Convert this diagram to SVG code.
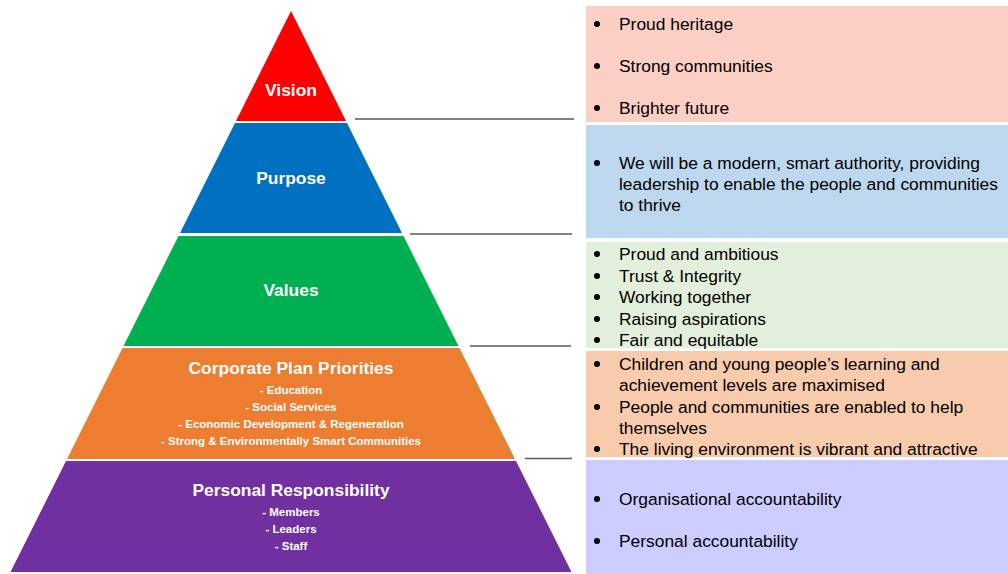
<svg xmlns="http://www.w3.org/2000/svg" width="1008" height="574" viewBox="0 0 1008 574">
<style>
.lbl{font-family:"Liberation Sans",Arial,sans-serif;font-weight:bold;fill:#ffffff;text-anchor:middle}
.t{font-size:17.4px}
.s{font-size:11.5px}
.b{font-family:"Liberation Sans",Arial,sans-serif;font-size:17.4px;fill:#000000}
.conn{stroke:#595959;stroke-width:1.3;fill:none}
</style>
<defs>
<circle id="dot" r="3" fill="#000"/>
</defs>
<rect width="1008" height="574" fill="#ffffff"/>
<g id="vision">
<polygon points="291,11 346,121 236,121" fill="#FF0000"/>
<text class="lbl t" x="291" y="96">Vision</text>
</g>
<g id="purpose">
<polygon points="235,123 347,123 402,233 180,233" fill="#0070C0"/>
<text class="lbl t" x="291" y="184">Purpose</text>
</g>
<g id="values">
<polygon points="178.5,236 403.5,236 458.5,346 123.5,346" fill="#00B050"/>
<text class="lbl t" x="291" y="296">Values</text>
</g>
<g id="priorities">
<polygon points="122.5,348 459.5,348 515,459 67,459" fill="#ED7D31"/>
<text class="lbl t" x="291" y="374">Corporate Plan Priorities</text>
<text class="lbl s" x="291" y="394">- Education</text>
<text class="lbl s" x="291" y="411">- Social Services</text>
<text class="lbl s" x="291" y="428">- Economic Development &amp; Regeneration</text>
<text class="lbl s" x="291" y="445">- Strong &amp; Environmentally Smart Communities</text>
</g>
<g id="responsibility">
<polygon points="66,461 516,461 571.5,572 10.5,572" fill="#7030A0"/>
<text class="lbl t" x="291" y="496">Personal Responsibility</text>
<text class="lbl s" x="291" y="516">- Members</text>
<text class="lbl s" x="291" y="533">- Leaders</text>
<text class="lbl s" x="291" y="550">- Staff</text>
</g>
<g id="connectors">
<line class="conn" x1="355" y1="119" x2="574" y2="119"/>
<line class="conn" x1="410" y1="234" x2="572" y2="234"/>
<line class="conn" x1="470" y1="346" x2="571" y2="346"/>
<line class="conn" x1="525" y1="458.5" x2="572" y2="458.5"/>
</g>
<g id="vision-box">
<rect x="586" y="6" width="422" height="116" fill="#FBCFC4"/>
<use href="#dot" x="597" y="24"/><text class="b" x="619" y="30">Proud heritage</text>
<use href="#dot" x="597" y="66"/><text class="b" x="619" y="72">Strong communities</text>
<use href="#dot" x="597" y="108"/><text class="b" x="619" y="114">Brighter future</text>
</g>
<g id="purpose-box">
<rect x="586" y="125" width="422" height="113" fill="#BDD7EE"/>
<use href="#dot" x="597" y="163"/>
<text class="b" x="619" y="169">We will be a modern, smart authority, providing</text>
<text class="b" x="619" y="190">leadership to enable the people and communities</text>
<text class="b" x="619" y="211">to thrive</text>
</g>
<g id="values-box">
<rect x="586" y="242" width="422" height="106" fill="#E2EFDA"/>
<use href="#dot" x="597" y="254"/><text class="b" x="619" y="260">Proud and ambitious</text>
<use href="#dot" x="597" y="276"/><text class="b" x="619" y="282">Trust &amp; Integrity</text>
<use href="#dot" x="597" y="297"/><text class="b" x="619" y="303">Working together</text>
<use href="#dot" x="597" y="319"/><text class="b" x="619" y="325">Raising aspirations</text>
<use href="#dot" x="597" y="340"/><text class="b" x="619" y="346">Fair and equitable</text>
</g>
<g id="priorities-box">
<rect x="586" y="351" width="422" height="106" fill="#F8CBAD"/>
<use href="#dot" x="597" y="364"/><text class="b" x="619" y="370">Children and young people’s learning and</text>
<text class="b" x="619" y="391">achievement levels are maximised</text>
<use href="#dot" x="597" y="407"/><text class="b" x="619" y="413">People and communities are enabled to help</text>
<text class="b" x="619" y="434">themselves</text>
<use href="#dot" x="597" y="449"/><text class="b" x="619" y="455">The living environment is vibrant and attractive</text>
</g>
<g id="responsibility-box">
<rect x="586" y="460" width="422" height="114" fill="#CCCCFF"/>
<use href="#dot" x="597" y="499"/><text class="b" x="619" y="505">Organisational accountability</text>
<use href="#dot" x="597" y="541"/><text class="b" x="619" y="547">Personal accountability</text>
</g>
</svg>
